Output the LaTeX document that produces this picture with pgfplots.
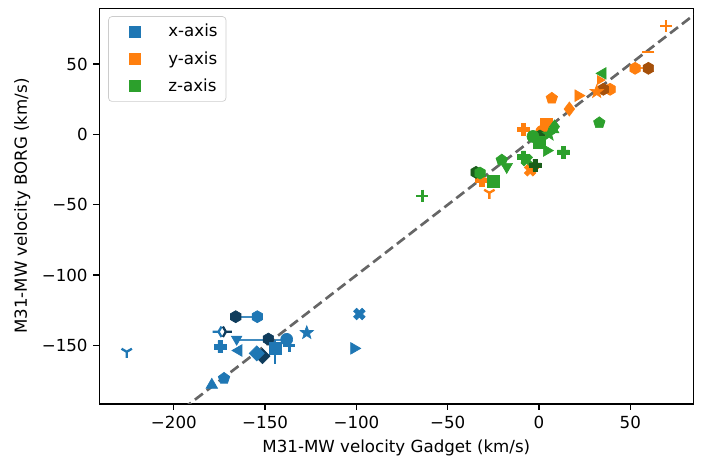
\documentclass[border=0pt]{standalone}
\usepackage{fontspec}
\setmainfont{DejaVu Sans}
\usepackage{pgfplots}
\pgfplotsset{compat=1.18}
\usetikzlibrary{plotmarks}
\definecolor{cb}{HTML}{1F77B4}
\definecolor{co}{HTML}{FF7F0E}
\definecolor{cg}{HTML}{2CA02C}
\definecolor{cbd}{HTML}{0F3C5C}
\definecolor{cod}{HTML}{A5500A}
\definecolor{cgd}{HTML}{1A5E1A}
\pgfdeclareplotmark{hexagon*}{%
  \pgfpathmoveto{\pgfpointpolar{90}{\pgfplotmarksize}}%
  \pgfpathlineto{\pgfpointpolar{150}{\pgfplotmarksize}}%
  \pgfpathlineto{\pgfpointpolar{210}{\pgfplotmarksize}}%
  \pgfpathlineto{\pgfpointpolar{270}{\pgfplotmarksize}}%
  \pgfpathlineto{\pgfpointpolar{330}{\pgfplotmarksize}}%
  \pgfpathlineto{\pgfpointpolar{30}{\pgfplotmarksize}}%
  \pgfpathclose\pgfusepathqfillstroke}
\pgfdeclareplotmark{plus*}{%
  \pgfpathmoveto{\pgfpoint{-0.36\pgfplotmarksize}{\pgfplotmarksize}}%
  \pgfpathlineto{\pgfpoint{0.36\pgfplotmarksize}{\pgfplotmarksize}}%
  \pgfpathlineto{\pgfpoint{0.36\pgfplotmarksize}{0.36\pgfplotmarksize}}%
  \pgfpathlineto{\pgfpoint{\pgfplotmarksize}{0.36\pgfplotmarksize}}%
  \pgfpathlineto{\pgfpoint{\pgfplotmarksize}{-0.36\pgfplotmarksize}}%
  \pgfpathlineto{\pgfpoint{0.36\pgfplotmarksize}{-0.36\pgfplotmarksize}}%
  \pgfpathlineto{\pgfpoint{0.36\pgfplotmarksize}{-\pgfplotmarksize}}%
  \pgfpathlineto{\pgfpoint{-0.36\pgfplotmarksize}{-\pgfplotmarksize}}%
  \pgfpathlineto{\pgfpoint{-0.36\pgfplotmarksize}{-0.36\pgfplotmarksize}}%
  \pgfpathlineto{\pgfpoint{-\pgfplotmarksize}{-0.36\pgfplotmarksize}}%
  \pgfpathlineto{\pgfpoint{-\pgfplotmarksize}{0.36\pgfplotmarksize}}%
  \pgfpathlineto{\pgfpoint{-0.36\pgfplotmarksize}{0.36\pgfplotmarksize}}%
  \pgfpathclose\pgfusepathqfillstroke}
\pgfdeclareplotmark{star5*}{%
  \pgfpathmoveto{\pgfpointpolar{90}{\pgfplotmarksize}}%
  \pgfpathlineto{\pgfpointpolar{126}{0.42\pgfplotmarksize}}%
  \pgfpathlineto{\pgfpointpolar{162}{\pgfplotmarksize}}%
  \pgfpathlineto{\pgfpointpolar{198}{0.42\pgfplotmarksize}}%
  \pgfpathlineto{\pgfpointpolar{234}{\pgfplotmarksize}}%
  \pgfpathlineto{\pgfpointpolar{270}{0.42\pgfplotmarksize}}%
  \pgfpathlineto{\pgfpointpolar{306}{\pgfplotmarksize}}%
  \pgfpathlineto{\pgfpointpolar{342}{0.42\pgfplotmarksize}}%
  \pgfpathlineto{\pgfpointpolar{18}{\pgfplotmarksize}}%
  \pgfpathlineto{\pgfpointpolar{54}{0.42\pgfplotmarksize}}%
  \pgfpathclose\pgfusepathqfillstroke}
\pgfplotsset{
  pt/.style={only marks, forget plot, mark size=3.6pt},
  ln/.style={forget plot, no marks, line width=1pt},
}
\begin{document}
\begin{tikzpicture}
\begin{axis}[
  scale only axis, width=356.4pt, height=237.4pt,
  xmin=-240.8, xmax=84.5, ymin=-191.5, ymax=89.5,
  xtick={-200,-150,-100,-50,0,50}, xticklabels={−200,−150,−100,−50,0,50},
  ytick={-150,-100,-50,0,50}, yticklabels={−150,−100,−50,0,50},
  xtick pos=lower, ytick pos=left,
  tick align=outside, major tick length=3.5pt,
  tick style={black, line width=0.8pt},
  axis line style={line width=0.8pt},
  tick label style={font=\fontsize{10}{12}\selectfont},
  label style={font=\fontsize{10}{12}\selectfont},
  xlabel={M31-MW velocity Gadget (km/s)},
  ylabel={M31-MW velocity BORG (km/s)},
  legend style={at={(0.015,0.98)}, anchor=north west, draw=black!20,
    rounded corners=2pt, font=\fontsize{10}{12}\selectfont, row sep=3.3pt,
    inner xsep=3pt, inner ysep=2.5pt},
  legend cell align=left,
  legend image code/.code={\path (0cm,0cm) (1.07cm,0cm); \draw[#1] plot coordinates {(0.45cm,0cm)};},
]
\addlegendimage{only marks, mark=square*, cb, mark size=3.3pt}
\addlegendentry{x-axis}
\addlegendimage{only marks, mark=square*, co, mark size=3.3pt}
\addlegendentry{y-axis}
\addlegendimage{only marks, mark=square*, cg, mark size=3.3pt}
\addlegendentry{z-axis}

% ---------- x-axis (blue) ----------
\addplot[ln, cb!85] coordinates {(-166.1,-129.5) (-154.3,-129.5)};
\addplot[ln, cb!85] coordinates {(-165.6,-146) (-138.2,-146)};
\addplot[ln, cb] coordinates {(-144.6,-146) (-144.6,-163)};
\addplot[pt, cb, mark=Mercedes star flipped, mark options={line width=1.4pt}] coordinates {(-225.8,-154.4)};
\addplot[pt, cbd, mark=hexagon*] coordinates {(-166.1,-129.5) (-148.2,-145.4)};
\addplot[pt, cb, mark=hexagon*] coordinates {(-154.3,-129.5)};
\addplot[pt, cb, mark=Mercedes star, mark options={rotate=90, line width=1.4pt}] coordinates {(-175.5,-140.2)};
\addplot[pt, cbd, mark=Mercedes star, mark options={rotate=-90, line width=1.4pt}] coordinates {(-171.5,-140.2)};
\addplot[pt, cb, mark=plus*] coordinates {(-174.7,-150.8)};
\addplot[pt, cb, mark=triangle*, mark options={rotate=180}] coordinates {(-165.6,-145.5)};
\addplot[pt, cb, mark=triangle*, mark options={rotate=90}, mark size=4pt] coordinates {(-164.5,-153.5)};
\addplot[pt, cb, mark=*] coordinates {(-138.2,-145.6)};
\addplot[pt, cb, mark=+, mark options={line width=1.4pt}] coordinates {(-136.7,-150)};
\addplot[pt, cb, mark=square*] coordinates {(-144.6,-152)};
\addplot[pt, cbd, mark=square*, mark options={rotate=45}, mark size=3.2pt] coordinates {(-151.5,-157.5)};
\addplot[pt, cb, mark=square*, mark options={rotate=45}, mark size=3.2pt] coordinates {(-154.6,-155.5)};
\addplot[pt, cb, mark=pentagon*] coordinates {(-172.5,-173.3)};
\addplot[pt, cb, mark=triangle*, mark size=4pt] coordinates {(-179.2,-178)};
\addplot[pt, cb, mark=star5*, mark size=4.2pt] coordinates {(-127.2,-140.9)};
\addplot[pt, cb, mark=plus*, mark options={rotate=45}] coordinates {(-98.4,-127.6)};
\addplot[pt, cb, mark=triangle*, mark options={rotate=-90}, mark size=4pt] coordinates {(-101.3,-152)};

% ---------- y-axis (orange) ----------
\addplot[ln, co!85] coordinates {(52.6,46.9) (59.9,46.9)};
\addplot[pt, co, mark=+, mark options={line width=1.4pt}] coordinates {(69.6,76.9)};
\addplot[pt, co, mark=-, mark options={line width=1.4pt}] coordinates {(59.9,58.7)};
\addplot[pt, co, mark=hexagon*] coordinates {(52.6,46.9) (38.9,32)};
\addplot[pt, cod, mark=hexagon*] coordinates {(59.9,46.9) (35.2,32)};
\addplot[pt, co, mark=triangle*, mark options={rotate=-90}, mark size=3pt] coordinates {(33.4,38.6)};
\addplot[pt, co, mark=star5*, mark size=4.2pt] coordinates {(31.6,30.3)};
\addplot[pt, co, mark=pentagon*] coordinates {(7,25.6)};
\addplot[pt, co, mark=triangle*, mark options={rotate=-90}, mark size=4pt] coordinates {(21.5,27.5)};
\addplot[pt, co, mark=diamond*, mark size=4.2pt] coordinates {(16.6,18)};
\addplot[pt, co, mark=plus*] coordinates {(-8.6,3.5) (-31.4,-32.5)};
\addplot[pt, co, mark=square*] coordinates {(3.8,7.1)};
\addplot[pt, co, mark=*] coordinates {(1.5,2)};
\addplot[pt, co, mark=Mercedes star flipped, mark options={line width=1.4pt}] coordinates {(-27.2,-41.5)};
\addplot[pt, co, mark=plus*, mark options={rotate=45}] coordinates {(-4.9,-25.5)};
\addplot[pt, co, mark=+, mark options={line width=1.4pt}] coordinates {(-3.5,-24)};

% ---------- z-axis (green) ----------
\addplot[ln, cg!85] coordinates {(-34.5,-27) (-32.3,-27.5)};
\addplot[pt, cg, mark=+, mark options={line width=1.4pt}] coordinates {(-63.9,-43.6)};
\addplot[pt, cgd, mark=hexagon*] coordinates {(-34.5,-27) (0.5,-1.2)};
\addplot[pt, cg, mark=hexagon*] coordinates {(-32.3,-27.5)};
\addplot[pt, cg, mark=square*] coordinates {(-25,-33.5) (0.3,-6)};
\addplot[pt, cg, mark=pentagon*] coordinates {(-20.4,-18.3) (33,8.2)};
\addplot[pt, cg, mark=triangle*, mark options={rotate=180}, mark size=4pt] coordinates {(-17.7,-23)};
\addplot[pt, cg, mark=plus*, mark options={rotate=45}] coordinates {(-6.7,-18.3)};
\addplot[pt, cg, mark=plus*] coordinates {(-8.5,-16) (13.3,-12.6)};
\addplot[pt, cgd, mark=plus*] coordinates {(-2.2,-21.8)};
\addplot[pt, cg, mark=triangle*, mark options={rotate=-90}, mark size=4pt] coordinates {(4.2,-11.5)};
\addplot[pt, cg, mark=*] coordinates {(-3.3,-1.5)};
\addplot[pt, cg, mark=triangle*, mark size=4pt] coordinates {(7.7,3.5)};
\addplot[pt, cg, mark=star5*, mark size=4.2pt] coordinates {(5.5,0)};
\addplot[pt, cg, mark=diamond*, mark size=4pt] coordinates {(8.5,5.5)};
\addplot[pt, cg, mark=triangle*, mark options={rotate=90}, mark size=4pt] coordinates {(34.9,43.3)};

% ---------- diagonal ----------
\addplot[forget plot, no marks, color={rgb,255:red,102;green,102;blue,102}, line width=1.6pt, dash pattern=on 6pt off 3pt]
  coordinates {(-260,-260) (100,100)};
\end{axis}
\pgfresetboundingbox
\path ([shift={(-59.6pt,-33.6pt)}]current axis.south west) rectangle ([shift={(7.6pt,5pt)}]current axis.north east);
\end{tikzpicture}
\end{document}
